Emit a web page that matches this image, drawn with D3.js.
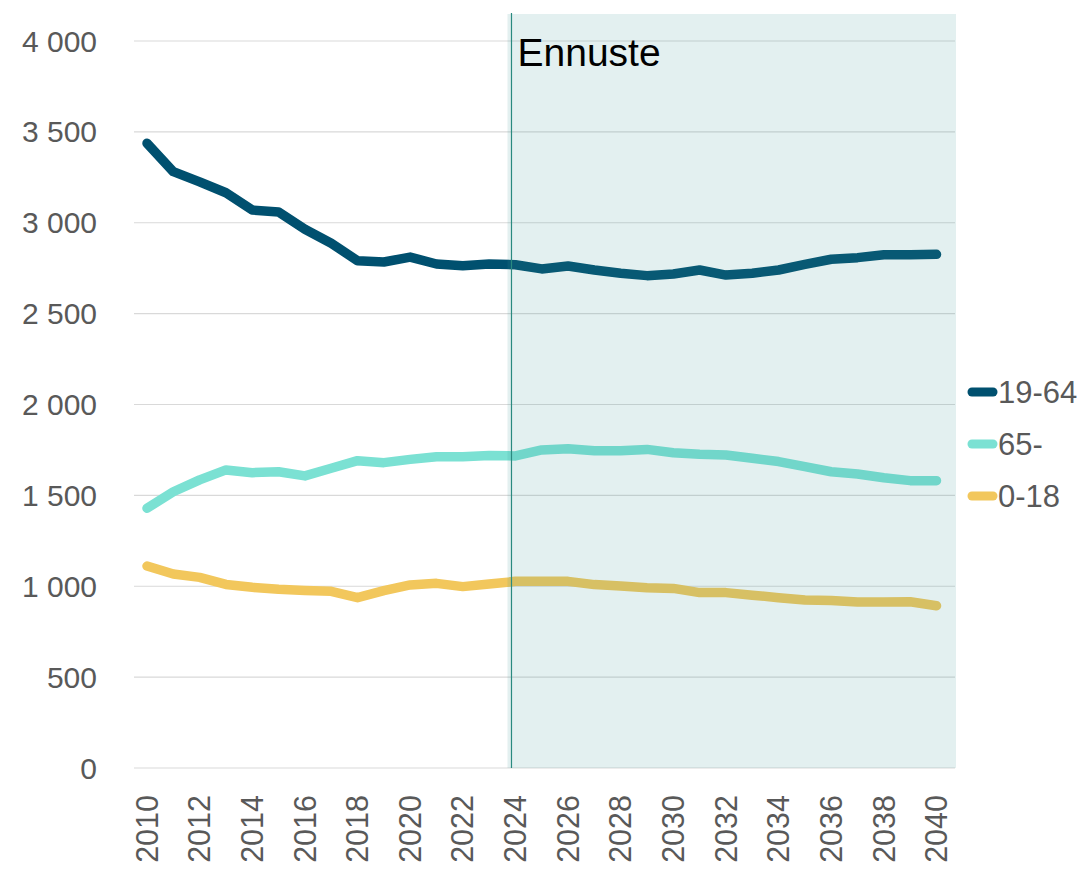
<!DOCTYPE html>
<html>
<head>
<meta charset="utf-8">
<script src="https://cdn.jsdelivr.net/npm/d3@7"></script>
<style>
  html, body { margin: 0; padding: 0; background: #fff; }
  text { font-family: "Liberation Sans", Arial, sans-serif; }
</style>
</head>
<body>
<div id="chart"></div>
<script>
const years = d3.range(2010, 2041);
const working = [3437, 3281, 3225, 3165, 3070, 3059, 2964, 2887, 2791, 2784, 2811, 2773, 2764, 2773, 2769,
  2746, 2762, 2740, 2722, 2709, 2718, 2740, 2712, 2722, 2740, 2771, 2799, 2808, 2824, 2824, 2826];
const elderly = [1429, 1520, 1585, 1640, 1625, 1630, 1607, 1649, 1691, 1680, 1698, 1713, 1713, 1720, 1717,
  1750, 1757, 1746, 1746, 1753, 1735, 1726, 1722, 1704, 1686, 1658, 1630, 1618, 1597, 1581, 1581];
const children = [1111, 1067, 1049, 1010, 994, 983, 977, 972, 937, 976, 1007, 1016, 998, 1012, 1027,
  1027, 1027, 1009, 1001, 992, 988, 965, 965, 951, 937, 924, 921, 913, 913, 915, 893];
const seriesNames = ['19-64', '65-', '0-18'];
const seriesColors = ['#00506f', '#7be1d3', '#f2c75c'];
const yTicks = [0, 500, 1000, 1500, 2000, 2500, 3000, 3500, 4000];
const xTicks = d3.range(2010, 2041, 2);
const forecastStart = 2023.85;
const forecastLabel = 'Ennuste';

const WIDTH = 1088;
const HEIGHT = 869;
const plotLeft = 134;
const plotRight = 955;

const svg = d3.select('#chart')
  .append('svg')
  .attr('width', WIDTH)
  .attr('height', HEIGHT);

const x = d3.scaleLinear().domain([2010, 2040]).range([147, 936.5]);
const y = d3.scaleLinear().domain([0, 4000]).range([768, 41]);

const fmt = d => d3.format(',')(d).replace(/,/g, ' ');

// gridlines
svg.append('g')
  .selectAll('line')
  .data(yTicks)
  .enter()
  .append('line')
  .attr('x1', plotLeft)
  .attr('x2', plotRight)
  .attr('y1', d => y(d))
  .attr('y2', d => y(d))
  .attr('stroke', '#d9d9d9')
  .attr('stroke-width', 1.2);

// y tick labels
svg.append('g')
  .selectAll('text')
  .data(yTicks)
  .enter()
  .append('text')
  .attr('x', 97)
  .attr('y', d => y(d))
  .attr('dy', '0.35em')
  .attr('text-anchor', 'end')
  .attr('fill', '#595959')
  .style('font-size', '30px')
  .text(d => d === 0 ? '0' : fmt(d));

// x tick labels, rotated
svg.append('g')
  .selectAll('text')
  .data(xTicks)
  .enter()
  .append('text')
  .attr('transform', d => `translate(${x(d)},795) rotate(-90)`)
  .attr('dy', '0.35em')
  .attr('text-anchor', 'end')
  .attr('fill', '#595959')
  .style('font-size', '30.5px')
  .text(d => d);

// series lines
const series = [working, elderly, children];
const line = d3.line()
  .x((d, i) => x(years[i]))
  .y(d => y(d));

svg.append('g')
  .selectAll('path')
  .data(series)
  .enter()
  .append('path')
  .attr('d', d => line(d))
  .attr('fill', 'none')
  .attr('stroke', (d, i) => seriesColors[i])
  .attr('stroke-width', 9.5)
  .attr('stroke-linejoin', 'round')
  .attr('stroke-linecap', 'round');

// forecast shading over the lines
svg.append('rect')
  .attr('x', x(forecastStart) - 4)
  .attr('y', 14)
  .attr('width', plotRight + 1 - (x(forecastStart) - 4))
  .attr('height', y(0) - 14)
  .attr('fill', 'rgb(55,148,148)')
  .attr('fill-opacity', 0.14);

svg.append('line')
  .attr('x1', x(forecastStart))
  .attr('x2', x(forecastStart))
  .attr('y1', 13)
  .attr('y2', y(0))
  .attr('stroke', '#2a8a80')
  .attr('stroke-width', 1.2);

svg.append('text')
  .attr('x', x(forecastStart) + 6)
  .attr('y', 66)
  .attr('fill', '#000')
  .style('font-size', '39px')
  .text(forecastLabel);

// legend
const legend = svg.append('g')
  .selectAll('g')
  .data(seriesNames)
  .enter()
  .append('g')
  .attr('transform', (d, i) => `translate(0,${[392, 444, 496][i]})`);

legend.append('line')
  .attr('x1', 972)
  .attr('x2', 993)
  .attr('stroke', (d, i) => seriesColors[i])
  .attr('stroke-width', 9)
  .attr('stroke-linecap', 'round');

legend.append('text')
  .attr('x', 998)
  .attr('dy', '0.35em')
  .attr('fill', '#595959')
  .style('font-size', '31px')
  .text(d => d);
</script>
</body>
</html>
